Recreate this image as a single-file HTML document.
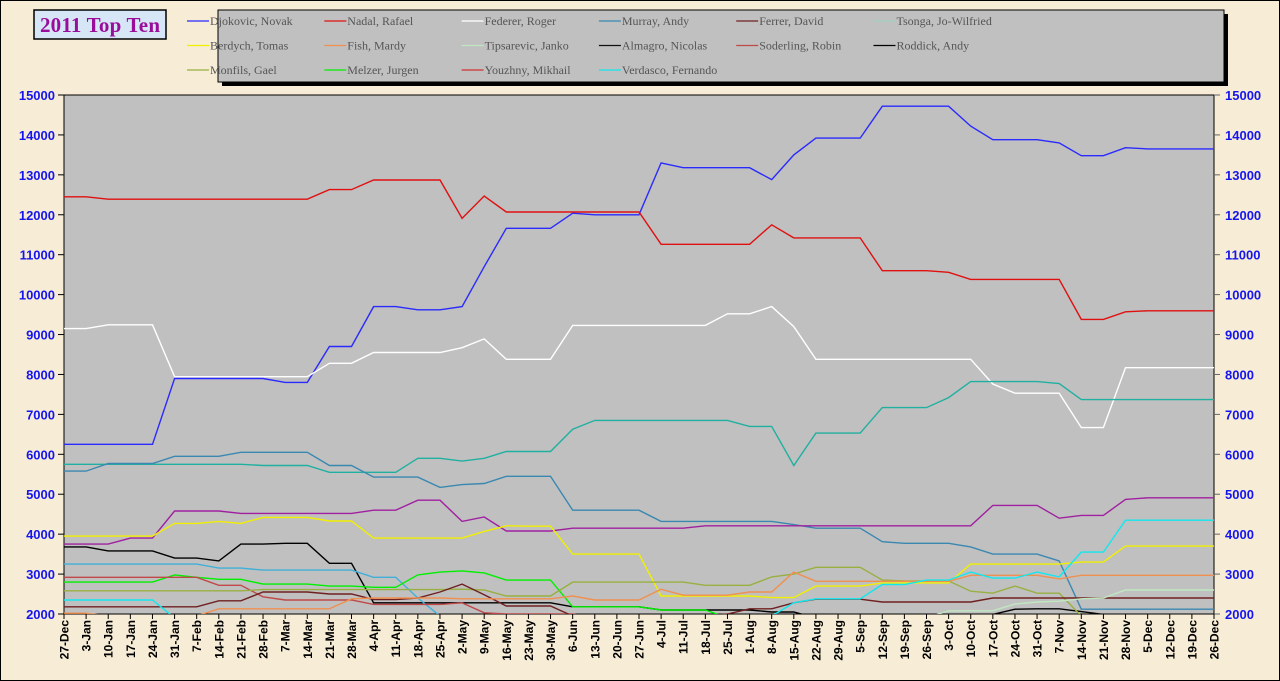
<!DOCTYPE html>
<html><head><meta charset="utf-8"><style>
body{margin:0;background:#f7ecd5;}
svg{display:block}
</style></head><body>
<svg width="1280" height="681" xmlns="http://www.w3.org/2000/svg" font-family="Liberation Sans, sans-serif">
<rect x="0" y="0" width="1280" height="681" fill="#f7ecd5" stroke="#000" stroke-width="2"/>
<rect x="34" y="10" width="132" height="29" fill="#d6e6f6" stroke="#000" stroke-width="1.5"/>
<text x="100" y="32" text-anchor="middle" font-family="Liberation Serif, serif" font-weight="bold" font-size="21" fill="#9a0d9a" textLength="120">2011 Top Ten</text>
<rect x="222" y="14" width="1006" height="72" fill="#000"/>
<rect x="218" y="10" width="1006" height="72" fill="#c0c0c0" stroke="#000" stroke-width="1"/>
<g id="leg" font-family="Liberation Serif, serif" font-size="12" fill="#555"></g>
<rect x="64" y="95" width="1150" height="519" fill="#c0c0c0" stroke="#000" stroke-width="1"/>
<g id="ax"></g>
<g id="ser" fill="none" stroke-width="1.4"></g>
</svg>
<script>
const NS="http://www.w3.org/2000/svg";
function el(t,a,p,txt){const e=document.createElementNS(NS,t);for(const k in a)e.setAttribute(k,a[k]);if(txt!=null)e.textContent=txt;p.appendChild(e);return e;}
const X=i=>64+i*1150/52, Y=v=>614-(v-2000)*519/13000;
const ax=document.getElementById('ax');
for(let v=2000;v<=15000;v+=1000){const y=Y(v);
 el('line',{x1:58,x2:64,y1:y,y2:y,stroke:'#000'},ax);
 el('line',{x1:1214,x2:1220,y1:y,y2:y,stroke:'#666'},ax);
 el('text',{x:55,y:y+5,'text-anchor':'end','font-size':13,'font-weight':'bold',fill:'#1515f0'},ax,v);
 el('text',{x:1225,y:y+5,'font-size':13,'font-weight':'bold',fill:'#1515f0'},ax,v);}
const labs=["27-Dec","3-Jan","10-Jan","17-Jan","24-Jan","31-Jan","7-Feb","14-Feb","21-Feb","28-Feb","7-Mar","14-Mar","21-Mar","28-Mar","4-Apr","11-Apr","18-Apr","25-Apr","2-May","9-May","16-May","23-May","30-May","6-Jun","13-Jun","20-Jun","27-Jun","4-Jul","11-Jul","18-Jul","25-Jul","1-Aug","8-Aug","15-Aug","22-Aug","29-Aug","5-Sep","12-Sep","19-Sep","26-Sep","3-Oct","10-Oct","17-Oct","24-Oct","31-Oct","7-Nov","14-Nov","21-Nov","28-Nov","5-Dec","12-Dec","19-Dec","26-Dec"];
labs.forEach((l,i)=>{const x=X(i);el('line',{x1:x,x2:x,y1:614,y2:619,stroke:'#000'},ax);
 el('text',{x:0,y:0,transform:`translate(${x+4.5},${620}) rotate(-90)`,'text-anchor':'end','font-size':12,'font-weight':'bold',fill:'#000'},ax,l);});
const leg=document.getElementById('leg');
const names=[["Djokovic, Novak","#2a2aff"],["Nadal, Rafael","#e01010"],["Federer, Roger","#ffffff"],["Murray, Andy","#3a88b0"],["Ferrer, David","#702020"],["Tsonga, Jo-Wilfried","#a0d0c0"],["Berdych, Tomas","#f0f000"],["Fish, Mardy","#f09050"],["Tipsarevic, Janko","#c0e8c0"],["Almagro, Nicolas","#101010"],["Soderling, Robin","#c04848"],["Roddick, Andy","#000000"],["Monfils, Gael","#98b040"],["Melzer, Jurgen","#00f000"],["Youzhny, Mikhail","#d03030"],["Verdasco, Fernando","#10e8f0"]];
names.forEach((n,i)=>{const c=i%6,r=Math.floor(i/6);const x=187+c*137.3,y=21+r*24.5;
 el('line',{x1:x,x2:x+22,y1:y,y2:y,stroke:n[1],'stroke-width':1.3},leg);
 el('text',{x:x+23,y:y+4},leg,n[0]);});
function f(a){const r=[];a.forEach(s=>{const[n,v]=s;for(let k=0;k<n;k++)r.push(v);});return r;}
const S=[
["#2a2aff",f([[5,6250],[5,7900],[2,7800],[2,8700],[2,9700],[2,9620],[1,9700],[1,10700],[3,11660],[1,12040],[3,12000],[1,13300],[4,13180],[1,12880],[1,13500],[3,13920],[4,14720],[1,14220],[3,13880],[1,13800],[2,13480],[1,13680],[4,13650]])],
["#e01010",f([[2,12450],[10,12390],[2,12630],[4,12870],[1,11910],[1,12470],[7,12070],[5,11260],[1,11750],[4,11420],[3,10600],[1,10560],[5,10380],[2,9380],[1,9570],[4,9595]])],
["#ffffff",f([[2,9150],[3,9245],[7,7945],[2,8280],[4,8550],[1,8670],[1,8890],[3,8380],[7,9230],[2,9520],[1,9700],[1,9200],[8,8380],[1,7760],[3,7530],[2,6670],[5,8170]])],
["#20b0a0",f([[9,5750],[3,5720],[4,5550],[2,5900],[1,5830],[1,5900],[3,6070],[1,6630],[7,6850],[2,6700],[1,5720],[3,6530],[3,7170],[1,7420],[4,7820],[1,7770],[7,7370]])],
["#3a88b0",f([[2,5580],[3,5770],[3,5950],[4,6050],[2,5720],[3,5430],[1,5170],[1,5240],[1,5270],[3,5450],[4,4600],[6,4320],[1,4240],[3,4150],[1,3810],[3,3770],[1,3680],[3,3500],[1,3330],[7,2120]])],
["#a020a0",f([[3,3750],[2,3900],[3,4580],[6,4520],[2,4600],[2,4850],[1,4320],[1,4430],[3,4080],[6,4150],[13,4210],[3,4720],[1,4400],[2,4470],[1,4870],[4,4910]])],
["#f0f000",f([[5,3950],[2,4270],[1,4320],[1,4270],[3,4420],[2,4330],[5,3900],[1,4070],[1,4210],[2,4200],[4,3500],[5,2450],[2,2410],[3,2700],[4,2780],[5,3250],[2,3300],[5,3700]])],
["#000000",f([[2,3680],[3,3580],[2,3400],[1,3330],[2,3750],[2,3770],[2,3270],[9,2280],[4,2180],[5,2100],[2,2050],[8,1900],[1,1990],[1,2120],[2,2130],[1,2060],[1,1990],[6,1900]])],
["#40b0d8",f([[7,3250],[2,3150],[5,3100],[2,2920],[1,2400],[1,1950],[35,1900]])],
["#00f000",f([[5,2800],[1,2980],[1,2920],[2,2870],[3,2750],[2,2700],[2,2670],[1,2980],[1,3050],[1,3080],[1,3030],[3,2850],[4,2180],[3,2100],[23,1900]])],
["#c04848",f([[7,2920],[2,2720],[1,2430],[4,2350],[4,2240],[1,2280],[1,2030],[4,2000],[29,1900]])],
["#98b040",f([[9,2580],[9,2610],[1,2620],[1,2600],[3,2450],[6,2800],[3,2720],[1,2930],[1,3000],[3,3170],[1,2850],[3,2830],[1,2570],[1,2520],[1,2700],[2,2520],[7,1950]])],
["#702020",f([[7,2180],[2,2330],[3,2550],[2,2500],[2,2360],[1,2400],[1,2550],[1,2750],[1,2480],[3,2200],[7,1950],[1,2000],[2,2130],[1,2280],[3,2370],[5,2300],[11,2400]])],
["#f09050",f([[2,2020],[5,1950],[1,2130],[5,2130],[1,2380],[4,2400],[5,2380],[1,2450],[3,2350],[1,2620],[3,2470],[2,2550],[1,3050],[7,2820],[1,2970],[3,2970],[1,2880],[7,2970]])],
["#10e8f0",f([[5,2350],[27,1900],[1,1950],[1,2280],[3,2380],[2,2740],[2,2850],[1,3050],[2,2900],[1,3050],[1,2930],[2,3550],[5,4350]])],
["#c0e8c0",f([[40,1900],[3,2080],[1,2250],[1,2300],[1,2320],[1,2380],[1,2400],[5,2600]])]
];
const g=document.getElementById('ser');
const cp=el('clipPath',{id:'cp'},el('defs',{},g));el('rect',{x:64,y:95,width:1150,height:519},cp);
g.setAttribute('clip-path','url(#cp)');
S.forEach(s=>{el('polyline',{points:s[1].map((v,i)=>X(i).toFixed(1)+','+Y(v).toFixed(1)).join(' '),stroke:s[0]},g);});
</script>
</body></html>
